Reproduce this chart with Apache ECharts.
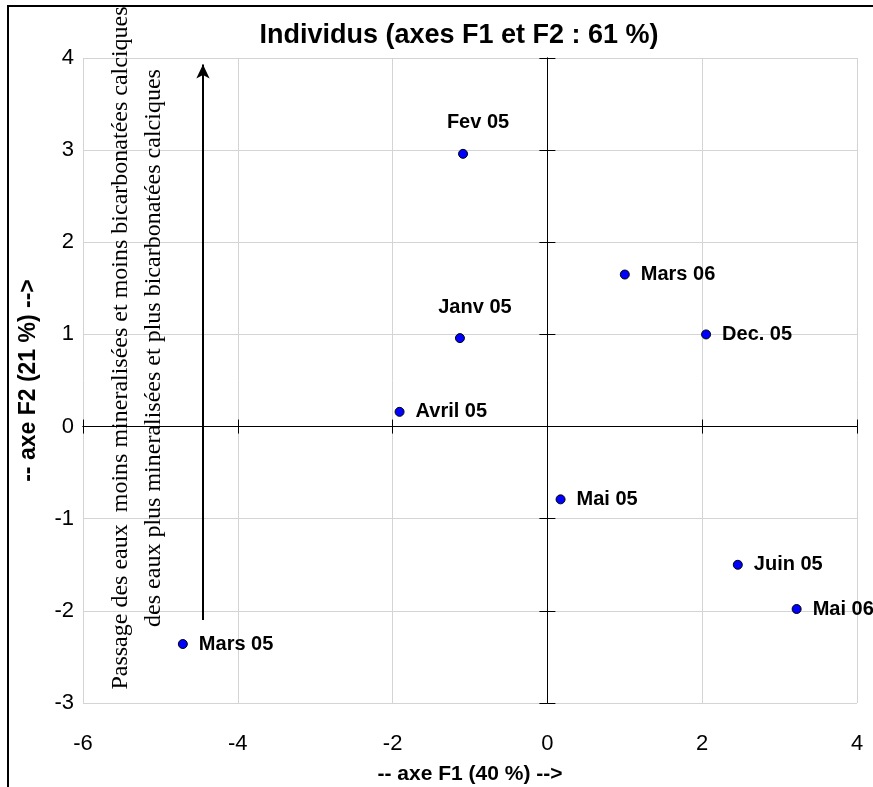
<!DOCTYPE html>
<html>
<head>
<meta charset="utf-8">
<script src="https://cdn.jsdelivr.net/npm/echarts@6/dist/echarts.min.js"></script>
<style>html,body{margin:0;padding:0;background:#fff}#c{width:873px;height:787px}</style>
</head>
<body>
<div id="c"></div>
<script>
const names = ['Janv 05','Fev 05','Mars 05','Avril 05','Mai 05','Juin 05','Dec. 05','Mars 06','Mai 06'];
const f1 = [-1.13, -1.09, -4.71, -1.91, 0.17, 2.46, 2.05, 1.00, 3.22];
const f2 = [0.96, 2.96, -2.36, 0.16, -0.79, -1.50, 1.00, 1.65, -1.98];
const labelAbove = ['Janv 05','Fev 05'];
const xTicks = [-6, -4, -2, 0, 2, 4];
const yTicks = [-3, -2, -1, 0, 1, 2, 3, 4];
const arrowX = -4.45, arrowY = [-2.1, 3.93];
const titleText = 'Individus (axes F1 et F2 : 61 %)';
const xName = '-- axe F1 (40 %) -->';
const yName = '-- axe F2 (21 %) -->';
const noteLines = ['Passage des eaux  moins mineralisées et moins bicarbonatées calciques',
                   'des eaux plus mineralisées et plus bicarbonatées calciques'];

const sans = 'Liberation Sans, Arial, sans-serif';
const xMin = xTicks[0], xMax = xTicks[xTicks.length-1], xInt = xTicks[1]-xTicks[0];
const yMin = yTicks[0], yMax = yTicks[yTicks.length-1], yInt = yTicks[1]-yTicks[0];

const pts = names.map((n,i)=>{
  const above = labelAbove.includes(n);
  return {
    name: n, value: [f1[i], f2[i]],
    label: above ? {position:'top', distance: 16, offset:[15,0]} : {position:'right', distance: 11}
  };
});

function zeroAxis(extra){
  return Object.assign({
    type:'value', splitLine:{show:false}, axisLabel:{show:false},
    axisLine:{show:true, onZero:true, onZeroAxisIndex:0, lineStyle:{color:'#000', width:1}},
    axisTick:{show:true, length:7, lineStyle:{color:'#000', width:1}}
  }, extra);
}

const chart = echarts.init(document.getElementById('c'), null, {renderer:'canvas'});
chart.setOption({
  animation:false,
  backgroundColor:'#fff',
  title:{text:titleText, left:454, top:17, textAlign:'center',
    textStyle:{fontFamily:sans, fontWeight:'bold', fontSize:27, color:'#000'}},
  grid:{left:83, right:16, top:58, bottom:84, containLabel:false, outerBoundsMode:'none'},
  xAxis:[
    {type:'value', min:xMin, max:xMax, interval:xInt, position:'bottom',
     axisLine:{show:false, onZero:false}, axisTick:{show:false},
     axisLabel:{fontFamily:sans, fontSize:22, color:'#000', margin:30},
     splitLine:{show:true, lineStyle:{color:'#d4d4d4', width:1}},
     name:xName, nameLocation:'middle', nameGap:61,
     nameTextStyle:{fontFamily:sans, fontWeight:'bold', fontSize:21, color:'#000'}},
    zeroAxis({min:xMin, max:xMax, interval:xInt, axisTick:{show:true, inside:true, length:7, lineStyle:{color:'#000'}}}),
    zeroAxis({min:xMin, max:xMax, interval:xInt, axisTick:{show:true, inside:false, length:7, lineStyle:{color:'#000'}}})
  ],
  yAxis:[
    {type:'value', min:yMin, max:yMax, interval:yInt, position:'left',
     axisLine:{show:false, onZero:false}, axisTick:{show:false},
     axisLabel:{fontFamily:sans, fontSize:22, color:'#000', margin:9},
     splitLine:{show:true, lineStyle:{color:'#d4d4d4', width:1}},
     name:yName, nameLocation:'middle', nameGap:43, nameRotate:90,
     nameTextStyle:{fontFamily:sans, fontWeight:'bold', fontSize:23, color:'#000'}},
    zeroAxis({min:yMin, max:yMax, interval:yInt, axisTick:{show:true, inside:true, length:8, lineStyle:{color:'#000'}}}),
    zeroAxis({min:yMin, max:yMax, interval:yInt, axisTick:{show:true, inside:false, length:8, lineStyle:{color:'#000'}}})
  ],
  series:[{
    type:'scatter', xAxisIndex:0, yAxisIndex:0,
    symbol:'circle', symbolSize:9,
    itemStyle:{color:'#0000ff', borderColor:'#000', borderWidth:1, opacity:1},
    label:{show:true, formatter:'{b}', fontFamily:sans, fontWeight:'bold', fontSize:20, color:'#000'},
    data:pts,
    markLine:{silent:true, symbol:['none','arrow'], symbolSize:[10,14], label:{show:false},
      lineStyle:{color:'#000', width:2, type:'solid'},
      data:[[{coord:[arrowX, arrowY[0]]},{coord:[arrowX, arrowY[1]]}]]}
  }],
  graphic:[
    {type:'rect', shape:{x:8, y:6, width:1000, height:1000}, style:{fill:'none', stroke:'#000', lineWidth:2}, z:100},
    {type:'text', x:137, y:348, rotation:Math.PI/2, z:50,
     style:{text:noteLines.join('\n'), font:'24px "Liberation Serif", "Times New Roman", serif',
       fill:'#000', align:'center', verticalAlign:'middle', lineHeight:33}}
  ]
});
</script>
</body>
</html>
